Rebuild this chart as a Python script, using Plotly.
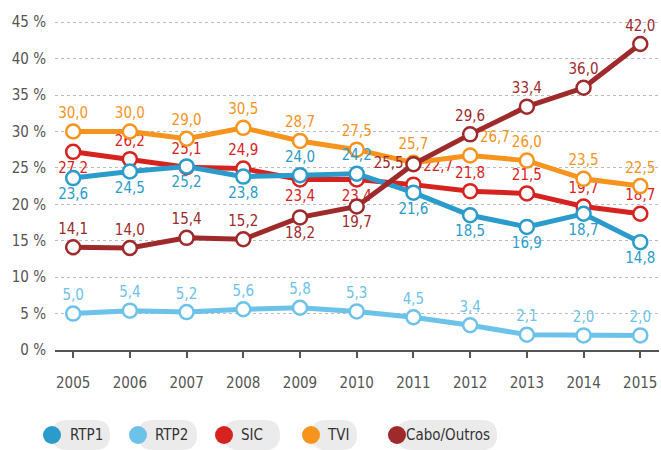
import plotly.graph_objects as go

years = [2005, 2006, 2007, 2008, 2009, 2010, 2011, 2012, 2013, 2014, 2015]
series_names = ["RTP1", "RTP2", "SIC", "TVI", "Cabo/Outros"]
rtp1 = [23.6, 24.5, 25.2, 23.8, 24.0, 24.2, 21.6, 18.5, 16.9, 18.7, 14.8]
rtp2 = [5.0, 5.4, 5.2, 5.6, 5.8, 5.3, 4.5, 3.4, 2.1, 2.0, 2.0]
sic = [27.2, 26.2, 25.1, 24.9, 23.4, 23.4, 22.7, 21.8, 21.5, 19.7, 18.7]
tvi = [30.0, 30.0, 29.0, 30.5, 28.7, 27.5, 25.7, 26.7, 26.0, 23.5, 22.5]
cabo = [14.1, 14.0, 15.4, 15.2, 18.2, 19.7, 25.5, 29.6, 33.4, 36.0, 42.0]
y_ticks = [0, 5, 10, 15, 20, 25, 30, 35, 40, 45]

colors = {
    "RTP1": "#2b9bcb",
    "RTP2": "#6dc2ea",
    "SIC": "#d7231f",
    "TVI": "#f7941e",
    "Cabo/Outros": "#9e2a2b",
}
values = {"RTP1": rtp1, "RTP2": rtp2, "SIC": sic, "TVI": tvi, "Cabo/Outros": cabo}

T, B = "top center", "bottom center"
label_pos = {
    "RTP1": [B, B, B, B, T, T, B, B, B, B, B],
    "RTP2": [T] * 11,
    "SIC": [B, T, T, T, B, B, "top right", T, T, T, T],
    "TVI": [T, T, T, T, T, T, T, "top right", T, T, T],
    "Cabo/Outros": [T, T, T, T, B, B, "middle left", T, T, T, T],
}

FONT = "DejaVu Sans Condensed, Liberation Sans Narrow, sans-serif"

fig = go.Figure()
draw_order = ["RTP2", "SIC", "TVI", "RTP1", "Cabo/Outros"]
for name in draw_order:
    vals = values[name]
    fig.add_trace(go.Scatter(
        x=years, y=vals, name=name, mode="lines+markers+text",
        line=dict(color=colors[name], width=5),
        marker=dict(size=14, color="white", line=dict(color=colors[name], width=2.5)),
        text=[f"{v:.1f}".replace(".", ",") for v in vals],
        textposition=label_pos[name],
        textfont=dict(family=FONT, size=15, color=colors[name]),
        cliponaxis=False, showlegend=False, hoverinfo="skip",
    ))

# legend pills
L, R, TOP, BOT = 55, 2, 20, 100
W, H = 661 - L - R, 450 - TOP - BOT
def px(x):
    return (x - L) / W
def py(y):
    return (450 - BOT - y) / H

legend_items = [("RTP1", 52, 110, 86), ("RTP2", 138, 197, 171), ("SIC", 224, 280, 252),
                ("TVI", 311, 357, 338), ("Cabo/Outros", 397, 497, 448)]
shapes = []
annotations = []
for name, cx, xend, tx in legend_items:
    x0, x1 = px(cx), px(xend)
    yt, yb, ym = py(420), py(450), py(435)
    rx = 15 / W
    path = (f"M {x0+rx},{yt} L {x1-rx},{yt} Q {x1},{yt} {x1},{ym} Q {x1},{yb} {x1-rx},{yb} "
            f"L {x0+rx},{yb} Q {x0},{yb} {x0},{ym} Q {x0},{yt} {x0+rx},{yt} Z")
    shapes.append(dict(type="path", path=path, xref="paper", yref="paper",
                       fillcolor="#ebebeb", line=dict(width=0), layer="above"))
    shapes.append(dict(type="circle", xref="paper", yref="paper",
                       x0=px(cx - 9), x1=px(cx + 9), y0=py(444), y1=py(426),
                       fillcolor=colors[name], line=dict(width=0), layer="above"))
    annotations.append(dict(x=px(tx), y=ym, xref="paper", yref="paper", text=name,
                            showarrow=False, xanchor="center", yanchor="middle",
                            font=dict(family=FONT, size=15, color="#333333")))

fig.update_layout(
    width=661, height=450,
    margin=dict(l=L, r=R, t=TOP, b=BOT),
    paper_bgcolor="white", plot_bgcolor="white",
    shapes=shapes, annotations=annotations,
    xaxis=dict(
        range=[2004.68, 2015.33], tickmode="array", tickvals=years,
        ticktext=[str(y) for y in years],
        showgrid=False, zeroline=False,
        showline=True, linecolor="#555555", linewidth=1.5,
        ticks="outside", ticklen=6, tickcolor="#555555", tickwidth=1.5,
        tickfont=dict(family=FONT, size=15, color="#555555"),
        ticklabelstandoff=12,
    ),
    yaxis=dict(
        range=[0, 45.3], tickmode="array", tickvals=y_ticks,
        ticktext=[f"{v} %" for v in y_ticks],
        showgrid=True, gridcolor="#bbbbbb", griddash="dot", gridwidth=1,
        zeroline=False, showline=False, ticks="",
        tickfont=dict(family=FONT, size=15, color="#555555"),
        ticklabelstandoff=8,
    ),
)

fig.write_html("out.html", config={"displayModeBar": False})
with open("out.html", "r", encoding="utf-8") as f:
    html = f.read()
html = html.replace("<head>", "<head><style>html,body{margin:0;padding:0;overflow:hidden}</style>", 1)
with open("out.html", "w", encoding="utf-8") as f:
    f.write(html)
